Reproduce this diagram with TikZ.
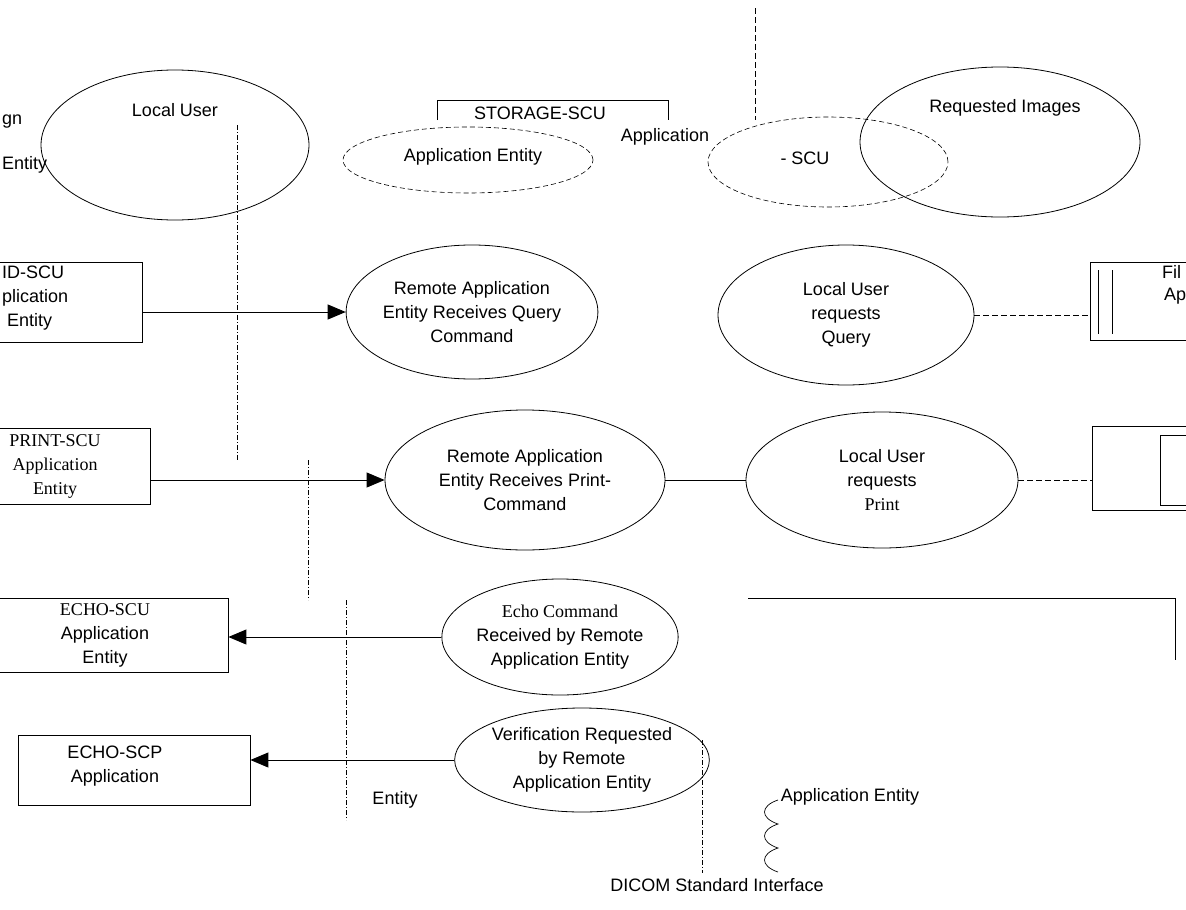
\documentclass[tikz,border=0pt]{standalone}
\usepackage{fontspec}
\setmainfont{Liberation Serif}
\setsansfont{Liberation Sans}
\usetikzlibrary{shapes.geometric,arrows.meta}
\tikzset{
  every node/.style={font=\sffamily\fontsize{18}{24}\selectfont, inner sep=0pt, align=center},
  ell/.style={draw, ellipse, line width=0.8pt},
  lightell/.style={draw, ellipse, line width=0.6pt, dash pattern=on 5pt off 3pt},
  box/.style={draw, rectangle, line width=0.8pt},
  arr/.style={-{Triangle[length=18pt,width=15pt]}, line width=0.9pt},
  link/.style={line width=0.9pt},
  dlink/.style={line width=0.9pt, dash pattern=on 6pt off 3pt},
  iface/.style={line width=0.7pt, dash pattern=on 5pt off 2pt on 1pt off 2pt},
  serif/.style={font=\rmfamily\fontsize{18}{24}\selectfont},
}
\begin{document}
\begin{tikzpicture}[x=1pt,y=-1pt]
\useasboundingbox (0,0) rectangle (1186,910);
\fill[white] (0,0) rectangle (1186,910);

% ---------- top row ----------
\node[ell, minimum width=268, minimum height=150] (luS) at (175,145) {};
\node (luStxt) at (175,110) {Local User};
\node[anchor=west] (gn) at (2,122) {gn};
\node[anchor=west] (ent0) at (2,165) {Entity};

\node (stor) at (540,113) {STORAGE-SCU};
\coordinate (st1) at (437,120);
\coordinate (st2) at (437,100);
\coordinate (st3) at (668,100);
\coordinate (st4) at (668,120);
\draw[link] (st1) -- (st2) -- (st3) -- (st4);

\node[lightell, minimum width=250, minimum height=66] (e1) at (468,160) {};
\node (e1txt) at (473,157) {Application Entity};
\node (apptxt) at (665,137) {Application};
\node[lightell, minimum width=240, minimum height=90] (e2) at (828,162) {};
\node (scutxt) at (805,158) {- SCU};

\node[ell, minimum width=280, minimum height=150] (ri) at (1000,142) {};
\node (ritxt) at (1005,108) {Requested Images};

\coordinate (v0a) at (755,8);
\coordinate (v0b) at (755,120);
\draw[dlink] (v0a) -- (v0b);

% ---------- interface line ----------
\coordinate (i1a) at (237,125);
\coordinate (i1b) at (237,460);
\coordinate (i2a) at (308,460);
\coordinate (i2b) at (308,600);
\coordinate (i3a) at (346,600);
\coordinate (i3b) at (346,820);
\coordinate (i4a) at (702,740);
\coordinate (i4b) at (702,873);
\draw[iface] (i1a) -- (i1b);
\draw[iface] (i2a) -- (i2b);
\draw[iface] (i3a) -- (i3b);
\draw[iface] (i4a) -- (i4b);

% ---------- query row ----------
\node[box, minimum width=242, minimum height=80] (find) at (21,302) {};
\node[anchor=west, align=left] (findtxt) at (2,298) {ID-SCU\\plication\\\ Entity};
\node[ell, minimum width=234, minimum height=134] (rq) at (472,312) {Remote Application\\Entity Receives Query\\Command};
\node[ell, minimum width=256, minimum height=140] (luq) at (846,315) {Local User\\requests\\Query};
\node[box, minimum width=140, minimum height=78] (film) at (1160,301) {};
\draw[link] (1098,270) -- (1098,334);
\draw[link] (1112,270) -- (1112,334);
\node[anchor=west] (fil) at (1162,272) {Fil};
\node[anchor=west] (ap) at (1164,296) {Ap};
\draw[arr] (find.east |- rq.west) -- (rq.west);
\draw[dlink] (luq.east) -- (film.west |- luq.east);

% ---------- print row ----------
\node[box, serif, minimum width=190, minimum height=76] (print) at (55,466) {PRINT-SCU\\Application\\Entity};
\node[ell, minimum width=280, minimum height=140] (rp) at (525,480) {Remote Application\\Entity Receives Print-\\Command};
\node[ell, minimum width=272, minimum height=136] (lup) at (882,480) {Local User\\requests\\{\rmfamily Print}};
\node[box, minimum width=135, minimum height=84] (pbox) at (1160,468) {};
\draw[link] (1160,435) rectangle (1205,505);
\draw[arr] (print.east |- rp.west) -- (rp.west);
\draw[link] (rp.east) -- (lup.west);
\draw[dlink] (lup.east) -- (pbox.west |- lup.east);

% ---------- echo row ----------
\node[box, minimum width=246, minimum height=74] (echoscu) at (105,635) {{\rmfamily ECHO-SCU}\\Application\\Entity};
\node[ell, minimum width=236, minimum height=116] (ec) at (560,637) {{\rmfamily Echo Command}\\Received by Remote\\Application Entity};
\draw[arr] (ec.west) -- (echoscu.east |- ec.west);
\coordinate (rb1) at (748,598);
\coordinate (rb2) at (1175,598);
\coordinate (rb3) at (1175,660);
\draw[link] (rb1) -- (rb2) -- (rb3);

% ---------- verification row ----------
\node[box, minimum width=232, minimum height=70] (echoscp) at (134,770) {};
\node (scptxt) at (115,766) {ECHO-SCP\\Application};
\node (enttxt) at (395,800) {Entity};
\node[ell, minimum width=236, minimum height=104] (vr) at (582,760) {Verification Requested\\by Remote\\Application Entity};
\draw[arr] (vr.west) -- (echoscp.east |- vr.west);

% ---------- interface symbol ----------
\node (aetxt) at (850,797) {Application Entity};
\coordinate (w0) at (778,800);
\coordinate (w1) at (778,824);
\coordinate (w2) at (778,848);
\coordinate (w3) at (778,872);
\draw[line width=0.7pt] (w0) .. controls (760,806) and (760,818) .. (w1)
                        .. controls (760,830) and (760,842) .. (w2)
                        .. controls (760,854) and (760,866) .. (w3);
\node (dicom) at (717,885) {DICOM Standard Interface};
\end{tikzpicture}
\end{document}
